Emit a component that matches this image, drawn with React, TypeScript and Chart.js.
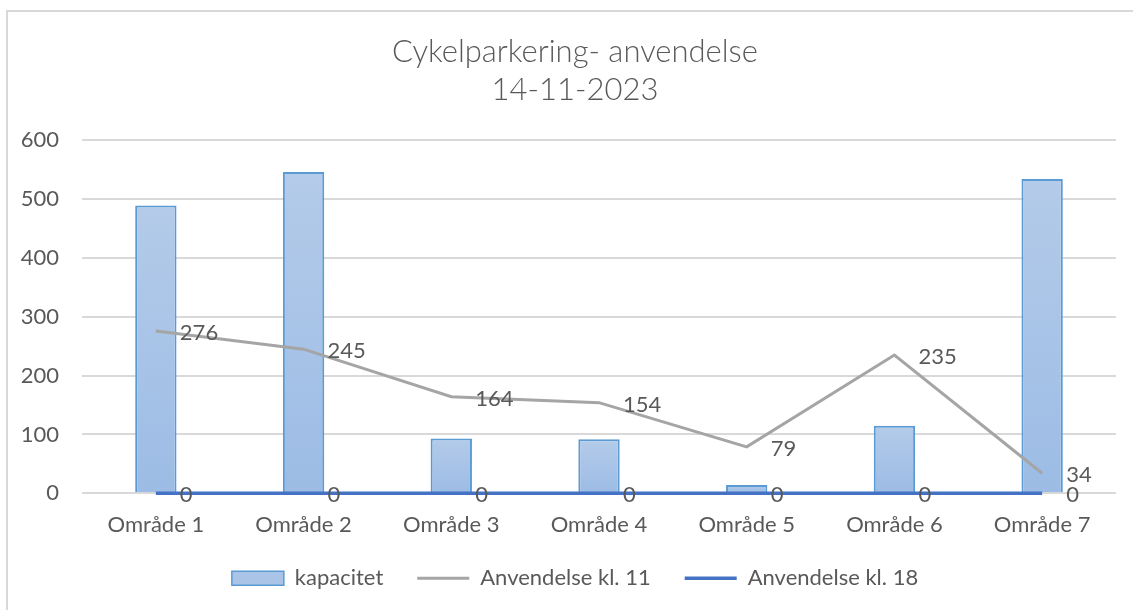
import React, { useEffect, useRef } from "react";
import { Chart, registerables } from "chart.js";

Chart.register(...registerables);

const titleLines = ["Cykelparkering- anvendelse", "14-11-2023"];
const categories = ["Område 1", "Område 2", "Område 3", "Område 4", "Område 5", "Område 6", "Område 7"];
const seriesNames = ["kapacitet", "Anvendelse kl. 11", "Anvendelse kl. 18"];
const kapacitet = [489, 546, 93, 92, 14, 115, 534];
const anvendelseKl11 = [276, 245, 164, 154, 79, 235, 34];
const anvendelseKl18 = [0, 0, 0, 0, 0, 0, 0];
const yMin = 0;
const yMax = 600;
const yStep = 100;

const FONT = "Lato, 'Open Sans', sans-serif";
const TEXT = "#595959";
const BAR_BORDER = "#5b9bd5";
const BAR_TOP = "#b4cbe9";
const BAR_BOTTOM = "#9cbce5";
const GRAY = "#a5a5a5";
const BLUE = "#4472c4";

const lineLabels = {
  id: "lineLabels",
  afterDatasetsDraw(chart: any) {
    const ctx = chart.ctx;
    ctx.save();
    ctx.font = `22px ${FONT}`;
    ctx.fillStyle = TEXT;
    ctx.textAlign = "left";
    ctx.textBaseline = "middle";
    [1, 2].forEach((di) => {
      const meta = chart.getDatasetMeta(di);
      const data = chart.data.datasets[di].data;
      meta.data.forEach((pt: any, i: number) => {
        ctx.fillText(String(data[i]), pt.x + 24, pt.y + 2);
      });
    });
    ctx.restore();
  },
};

export default function App() {
  const ref = useRef<HTMLCanvasElement | null>(null);

  useEffect(() => {
    let chart: Chart | null = null;
    let cancelled = false;
    const make = () => {
      if (cancelled || !ref.current) return;
      chart = new Chart(ref.current, {
        type: "bar",
        data: {
          labels: categories,
          datasets: [
            {
              type: "bar",
              label: seriesNames[0],
              data: kapacitet,
              order: 2,
              borderColor: BAR_BORDER,
              borderWidth: 2,
              barPercentage: 0.28,
              categoryPercentage: 1,
              backgroundColor: (c: any) => {
                const ch = c.chart;
                const ys = ch.scales && ch.scales.y;
                if (!ys || c.type !== "data") return BAR_TOP;
                const top = ys.getPixelForValue(c.raw);
                const base = ys.getPixelForValue(0);
                if (!isFinite(top) || !isFinite(base) || top === base) return BAR_TOP;
                const g = ch.ctx.createLinearGradient(0, top, 0, base);
                g.addColorStop(0, BAR_TOP);
                g.addColorStop(1, BAR_BOTTOM);
                return g;
              },
            } as any,
            {
              type: "line",
              label: seriesNames[1],
              data: anvendelseKl11,
              order: 1,
              clip: false,
              borderColor: GRAY,
              backgroundColor: GRAY,
              borderWidth: 3,
              pointRadius: 0,
              tension: 0,
            } as any,
            {
              type: "line",
              label: seriesNames[2],
              data: anvendelseKl18,
              order: 0,
              clip: false,
              borderColor: BLUE,
              backgroundColor: BLUE,
              borderWidth: 3.5,
              pointRadius: 0,
              tension: 0,
            } as any,
          ],
        },
        options: {
          responsive: false,
          animation: false,
          layout: { padding: { left: 0, right: 0, top: 0, bottom: 10.7 } },
          plugins: {
            tooltip: { enabled: false },
            title: {
              display: true,
              text: titleLines,
              color: TEXT,
              font: { family: FONT, size: 31, weight: "300" as any, lineHeight: 1.23 },
              padding: { top: 33, bottom: 31 },
            },
            legend: {
              position: "bottom",
              labels: {
                usePointStyle: true,
                pointStyleWidth: 52,
                boxHeight: 14,
                padding: 34,
                color: TEXT,
                font: { family: FONT, size: 22 },
                generateLabels: () => [
                  {
                    text: seriesNames[0],
                    fillStyle: "#a9c4e7",
                    strokeStyle: BAR_BORDER,
                    lineWidth: 1.5,
                    pointStyle: "rect",
                    hidden: false,
                    datasetIndex: 0,
                    fontColor: TEXT,
                  },
                  {
                    text: seriesNames[1],
                    fillStyle: GRAY,
                    strokeStyle: GRAY,
                    lineWidth: 3,
                    pointStyle: "line",
                    hidden: false,
                    datasetIndex: 1,
                    fontColor: TEXT,
                  },
                  {
                    text: seriesNames[2],
                    fillStyle: BLUE,
                    strokeStyle: BLUE,
                    lineWidth: 3.5,
                    pointStyle: "line",
                    hidden: false,
                    datasetIndex: 2,
                    fontColor: TEXT,
                  },
                ] as any,
              },
            },
          },
          scales: {
            x: {
              type: "category",
              offset: true,
              grid: { display: false, drawTicks: false },
              border: { display: false },
              ticks: { color: TEXT, font: { family: FONT, size: 22 }, padding: 18, maxRotation: 0 },
              afterFit: (s: any) => {
                s.height = 40;
              },
            },
            y: {
              type: "linear",
              min: yMin,
              max: yMax,
              grid: { color: "#d9d9d9", lineWidth: 2, drawTicks: false },
              border: { display: false },
              ticks: { stepSize: yStep, color: TEXT, font: { family: FONT, size: 22 }, padding: 23 },
              afterFit: (s: any) => {
                s.width = 82;
              },
            },
            yRight: {
              type: "linear",
              position: "right",
              display: true,
              grid: { display: false, drawTicks: false },
              border: { display: false },
              ticks: { display: false },
              afterFit: (s: any) => {
                s.width = 34;
              },
            },
          },
        } as any,
        plugins: [lineLabels],
      });
    };
    const fonts = (document as any).fonts;
    if (fonts && fonts.load) {
      Promise.all([fonts.load(`22px Lato`), fonts.load(`300 31px Lato`)]).then(make, make);
    } else {
      make();
    }
    return () => {
      cancelled = true;
      if (chart) chart.destroy();
    };
  }, []);

  return (
    <div
      style={{
        position: "absolute",
        left: 0,
        top: 0,
        width: 1133,
        height: 610,
        overflow: "hidden",
        background: "#ffffff",
      }}
    >
      <div
        style={{
          position: "absolute",
          left: 6,
          top: 10,
          width: 1300,
          height: 800,
          borderLeft: "2px solid #d9d9d9",
          borderTop: "2px solid #d9d9d9",
        }}
      />
      <canvas
        ref={ref}
        width={1150}
        height={610}
        style={{ position: "absolute", left: 0, top: 0, width: 1150, height: 610, display: "block" }}
      />
    </div>
  );
}
